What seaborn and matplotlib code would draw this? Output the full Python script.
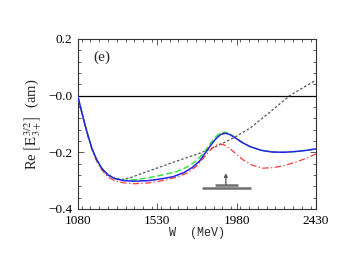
import matplotlib
matplotlib.use("Agg")
import matplotlib.pyplot as plt
import seaborn as sns
from matplotlib.ticker import MultipleLocator

# values
W_BLUE = [1080, 1100, 1120, 1140, 1160, 1185, 1214, 1250, 1290, 1340, 1400, 1480, 1560,
          1620, 1680, 1730, 1770, 1800, 1830, 1860, 1890, 1915, 1940, 1970, 2010, 2060,
          2120, 2180, 2250, 2320, 2380, 2430]
RE_BLUE = [-0.005, -0.055, -0.104, -0.148, -0.188, -0.225, -0.256, -0.280, -0.293, -0.300,
           -0.302, -0.300, -0.293, -0.286, -0.272, -0.253, -0.231, -0.205, -0.178, -0.154,
           -0.137, -0.133, -0.137, -0.148, -0.165, -0.181, -0.193, -0.199, -0.200, -0.197,
           -0.193, -0.188]

W_GREEN = [1080, 1100, 1120, 1140, 1160, 1185, 1214, 1250, 1290, 1340, 1400, 1480, 1560,
           1640, 1700, 1750, 1790, 1830, 1860, 1890, 1915, 1940, 1970, 2010, 2060, 2120,
           2180, 2250, 2320, 2380, 2430]
RE_GREEN = [-0.005, -0.055, -0.104, -0.148, -0.188, -0.225, -0.256, -0.280, -0.293, -0.299,
            -0.297, -0.290, -0.280, -0.268, -0.252, -0.231, -0.205, -0.170, -0.146, -0.131,
            -0.129, -0.134, -0.146, -0.164, -0.181, -0.193, -0.199, -0.200, -0.197, -0.193,
            -0.188]

W_RED = [1080, 1100, 1120, 1140, 1160, 1185, 1214, 1250, 1290, 1340, 1400, 1480, 1560,
         1640, 1700, 1750, 1790, 1830, 1860, 1885, 1910, 1940, 1980, 2020, 2070, 2130,
         2190, 2250, 2320, 2380, 2430]
RE_RED = [-0.005, -0.056, -0.106, -0.151, -0.192, -0.230, -0.262, -0.287, -0.301, -0.308,
          -0.311, -0.308, -0.300, -0.288, -0.273, -0.250, -0.222, -0.193, -0.176, -0.170,
          -0.174, -0.186, -0.207, -0.228, -0.246, -0.256, -0.254, -0.247, -0.234, -0.220,
          -0.206]

W_BLACK = [1080, 1100, 1120, 1140, 1160, 1185, 1214, 1250, 1290, 1330, 1380, 1450, 1550,
           1650, 1772, 1870, 1961, 2056, 2170, 2282, 2360, 2430]
RE_BLACK = [-0.005, -0.055, -0.104, -0.148, -0.188, -0.225, -0.256, -0.279, -0.292, -0.296,
            -0.289, -0.273, -0.251, -0.229, -0.203, -0.178, -0.150, -0.115, -0.058, 0.0,
            0.029, 0.054]

# resonance marker (mass bars and arrow)
RES_W = 1919
RES_ARROW = [-0.315, -0.274]
BAR_SHORT = [1857, 1986, -0.315]
BAR_LONG = [1785, 2060, -0.327]

X_TICKS = [1080, 1530, 1980, 2430]
Y_TICKS = [-0.4, -0.2, 0.0, 0.2]
Y_TICK_LABELS = ["\u22120.4", "\u22120.2", "\u22120.0", "0.2"]

sns.set_theme(style="ticks")
plt.rcParams["font.family"] = ["Liberation Serif", "DejaVu Serif"]
plt.rcParams["mathtext.fontset"] = "stix"

fig = plt.figure(figsize=(3.49, 2.70), dpi=100)
ax = fig.add_axes([0.2235, 0.226, 0.6815, 0.630])

ax.axhline(0, color="black", lw=0.9, zorder=1)
sns.lineplot(x=W_BLACK, y=RE_BLACK, ax=ax, color="#555555", lw=0.9,
             linestyle=(0, (2, 1.6)), zorder=2)
sns.lineplot(x=W_RED, y=RE_RED, ax=ax, color="#ff3b3b", lw=0.9,
             linestyle=(0, (5, 2, 1, 2)), zorder=3)
sns.lineplot(x=W_GREEN, y=RE_GREEN, ax=ax, color="#33e033", lw=1.0,
             linestyle=(0, (4.5, 2)), zorder=4)
sns.lineplot(x=W_BLUE, y=RE_BLUE, ax=ax, color="#2323e6", lw=1.1, zorder=5)

ax.plot(BAR_SHORT[:2], [BAR_SHORT[2]] * 2, color="#6e6e6e", lw=1.8, solid_capstyle="butt")
ax.plot(BAR_LONG[:2], [BAR_LONG[2]] * 2, color="#6e6e6e", lw=1.8, solid_capstyle="butt")
ax.annotate("", xy=(RES_W, RES_ARROW[1]), xytext=(RES_W, RES_ARROW[0]),
            arrowprops=dict(arrowstyle="-|>", color="#555555", lw=0.9,
                            mutation_scale=5, shrinkA=0, shrinkB=0))

ax.text(1216, 0.136, "(e)", fontsize=11, ha="center", va="center")

ax.set_xlim(1080, 2430)
ax.set_ylim(-0.4, 0.2)
ax.set_xticks(X_TICKS)
ax.set_yticks(Y_TICKS)
ax.set_yticklabels(Y_TICK_LABELS)
ax.xaxis.set_minor_locator(MultipleLocator(50))
ax.yaxis.set_minor_locator(MultipleLocator(0.04))
ax.tick_params(which="both", direction="in", top=True, right=True, colors="#444444",
               labelcolor="black", labelsize=9.5, width=0.6)
ax.tick_params(which="major", length=4.5)
ax.tick_params(which="minor", length=2.5)
ax.tick_params(axis="x", which="major", pad=4.5)
ax.tick_params(axis="y", which="major", pad=4)
for s in ax.spines.values():
    s.set_linewidth(0.8)
    s.set_color("#333333")

ax.set_xlabel("W  (MeV)", fontsize=8.5, family=["Liberation Mono", "DejaVu Sans Mono"],
              labelpad=0)
ax.set_ylabel(r"Re$\,\left[\,\mathrm{E}^{3/2}_{3+}\right]$  (am)", fontsize=10.5,
              labelpad=3)

fig.savefig("out.png", dpi=100)
